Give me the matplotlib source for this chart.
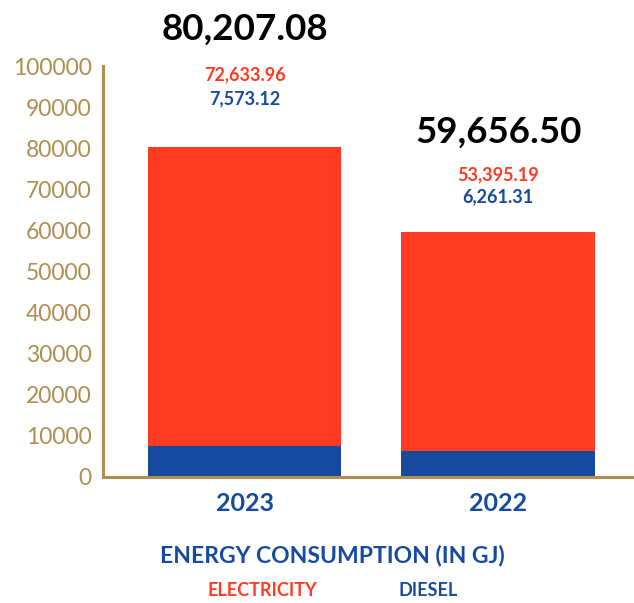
import matplotlib.pyplot as plt
import numpy as np

years = ["2023", "2022"]
diesel = [7573.12, 6261.31]
electricity = [72633.96, 53395.19]
totals = [80207.08, 59656.50]
yticks = [0, 10000, 20000, 30000, 40000, 50000, 60000, 70000, 80000, 90000, 100000]

RED = "#ff3a22"
BLUE = "#154a9e"
GOLD = "#b08d50"

plt.rcParams["font.family"] = ["Lato", "DejaVu Sans"]

fig = plt.figure(figsize=(6.34, 6.03), dpi=100)
ax = fig.add_axes([0.1625, 0.209, 0.835, 0.6815])

x = np.arange(len(years))
ax.bar(x, diesel, width=0.763, color=BLUE)
ax.bar(x, electricity, width=0.763, bottom=diesel, color=RED)

ax.set_xlim(-0.559, 1.53)
ax.set_ylim(0, 100000)
ax.set_yticks(yticks)
ax.set_yticklabels([str(t) for t in yticks], color=GOLD, fontsize=16.5)
ax.tick_params(axis="y", length=0, pad=8)
ax.set_xticks(x)
ax.set_xticklabels(years, color=BLUE, fontsize=18, fontweight="bold")
ax.tick_params(axis="x", length=0, pad=11)

for s in ["top", "right"]:
    ax.spines[s].set_visible(False)
for s in ["left", "bottom"]:
    ax.spines[s].set_color(GOLD)
    ax.spines[s].set_linewidth(2.2)

# value labels above each stack (offsets in points from the bar top)
total_off = [85, 72]
elec_off = [52, 41]
dies_off = [35, 25]
for i in range(len(years)):
    ax.annotate(f"{totals[i]:,.2f}", (x[i], totals[i]), xytext=(0, total_off[i]),
                textcoords="offset points", ha="center", va="center",
                fontsize=26.5, fontweight="bold", color="black")
    ax.annotate(f"{electricity[i]:,.2f}", (x[i], totals[i]), xytext=(0, elec_off[i]),
                textcoords="offset points", ha="center", va="center",
                fontsize=13, fontweight="bold", color=RED)
    ax.annotate(f"{diesel[i]:,.2f}", (x[i], totals[i]), xytext=(0, dies_off[i]),
                textcoords="offset points", ha="center", va="center",
                fontsize=13, fontweight="bold", color=BLUE)

fig.text(0.525, 0.078, "ENERGY CONSUMPTION (IN GJ)", ha="center", va="center",
         fontsize=16.5, fontweight="bold", color=BLUE)
fig.text(0.413, 0.02, "ELECTRICITY", ha="center", va="center",
         fontsize=13, fontweight="bold", color=RED)
fig.text(0.675, 0.02, "DIESEL", ha="center", va="center",
         fontsize=13, fontweight="bold", color=BLUE)

fig.savefig("out.png", dpi=100)
